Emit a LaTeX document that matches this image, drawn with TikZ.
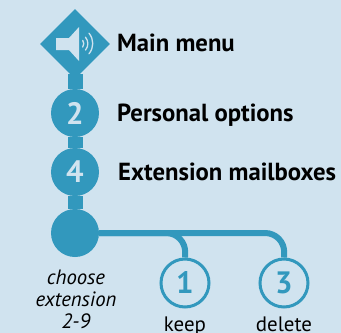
\documentclass[tikz,border=0pt]{standalone}
\usepackage{fontspec}
\usetikzlibrary{shapes.geometric}
\setmainfont{PT Sans}
\definecolor{bgc}{HTML}{D0E3EF}
\definecolor{tealc}{HTML}{3298BD}
\tikzset{
  x=1bp,y=-1bp,
  stem/.style={draw=tealc,line width=15bp},
  branch/.style={draw=tealc,line width=6bp,rounded corners=20bp},
  dia/.style={diamond,fill=tealc,minimum width=70bp,minimum height=70bp,inner sep=0pt,aspect=1},
  dot/.style={circle,fill=tealc,minimum size=48bp,inner sep=0pt,text=bgc,font=\fontsize{31}{31}\selectfont\bfseries},
  ring/.style={circle,draw=tealc,line width=3bp,minimum size=48bp,inner sep=0pt,text=tealc,font=\fontsize{31}{31}\selectfont\bfseries},
  head/.style={anchor=base west,text=black,font=\fontsize{24.8}{26}\selectfont\bfseries,inner sep=0pt},
  capt/.style={align=center,text=black,font=\fontsize{21}{22}\selectfont,inner sep=0pt},
  wave/.style={draw=bgc,line width=1.3bp,line cap=round},
}
\begin{document}
\begin{tikzpicture}
\fill[bgc] (0,0) rectangle (341,333);
\useasboundingbox (0,0) rectangle (341,333);
\node[dia] (m) at (75,44) {};
\node[dot] (two) at (75,113) {2};
\node[dot] (four) at (75,172) {4};
\node[dot] (ch) at (75,233) {};
\node[ring] (one) at (185,283) {1};
\node[ring] (three) at (284,283) {3};
\draw[stem] (m.south) ++(0,-5) -- (two.north);
\draw[stem] (two.south) -- (four.north);
\draw[stem] (four.south) -- (ch.north);
\draw[branch] (ch.east) -- (186,233) -- (one.north);
\draw[branch] (ch.east) -- (285,233) -- (three.north);
% speaker
\fill[bgc] (56,38) -- (69,38) -- (79,27) -- (79,61) -- (69,50) -- (56,50) -- cycle;
\draw[wave] (82.7,40.4) arc (-37:37:5.5);
\draw[wave] (85.5,37.2) arc (-40:40:10);
\draw[wave] (89,33.2) arc (-40:40:16);
\node[head] (t1) at (117,51) {Main menu};
\node[head] (t2) at (117,121) {Personal options};
\node[head] (t3) at (118,180) {Extension mailboxes};
\node[capt,font=\fontsize{20.8}{22}\selectfont\itshape] (t4) at (76,299.5) {choose\\extension\\2-9};
\node[capt,anchor=base] (t5) at (185,331) {keep};
\node[capt,anchor=base] (t6) at (284,331) {delete};
\end{tikzpicture}
\end{document}
